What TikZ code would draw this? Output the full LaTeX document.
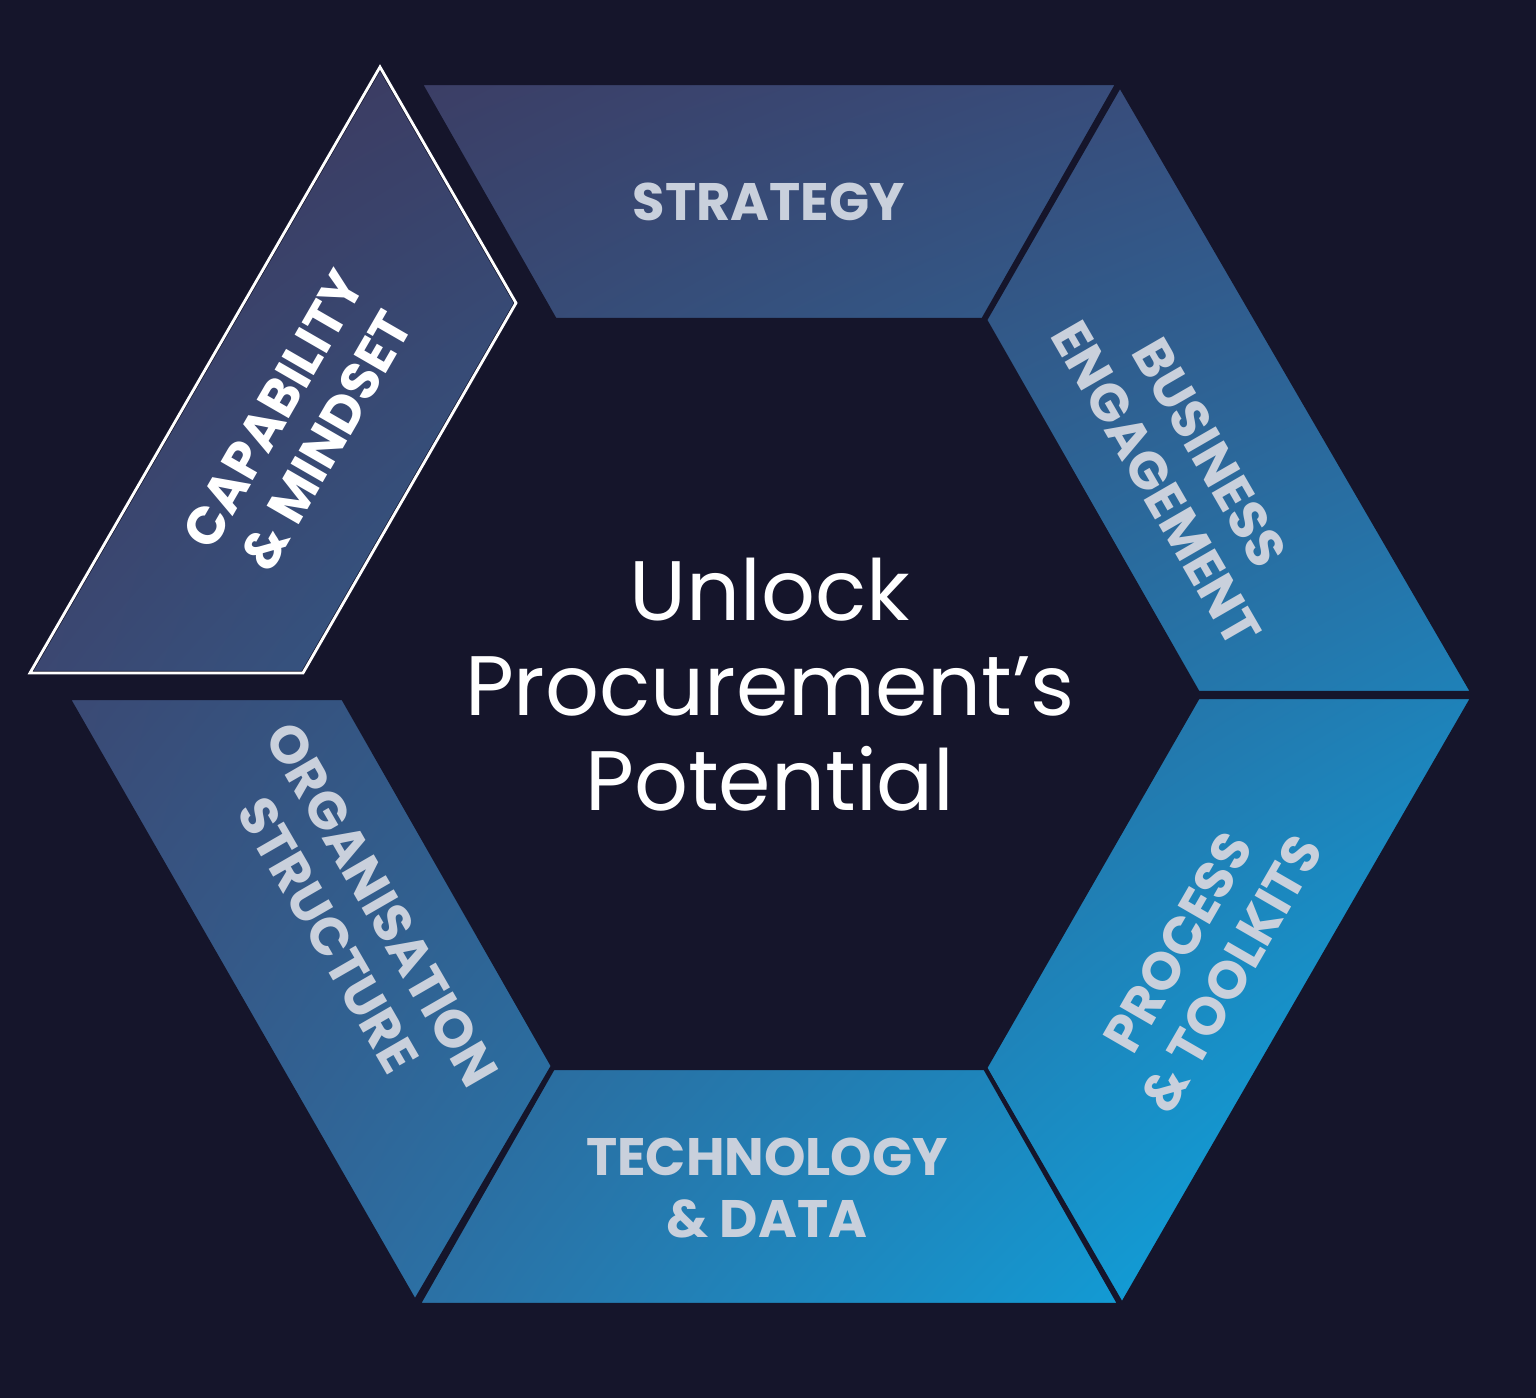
\documentclass[tikz,border=0pt]{standalone}
\usepackage{fontspec}
\setmainfont{Poppins}
\usetikzlibrary{shadings}
\definecolor{bg}{HTML}{15152B}
\definecolor{lbl}{HTML}{C9D0DC}
\definecolor{cUL}{HTML}{3D3355}
\definecolor{cUR}{HTML}{3A4E80}
\definecolor{cLL}{HTML}{3A5A8C}
\definecolor{cLR}{HTML}{00BBF8}
\tikzset{
  seglbl/.style={font=\fontsize{15}{17.5}\selectfont\bfseries, text=lbl, align=center, inner sep=0pt},
  seg/.style={draw=bg, line width=1.2pt},
}
\newcommand{\gradseg}[1]{%
  \begin{scope}
    \clip #1;
    \shade[upper left=cUL, upper right=cUR, lower left=cLL, lower right=cLR] (0,1398) rectangle (1536,0);
  \end{scope}
  \draw[seg] #1;
}
\begin{document}
\begin{tikzpicture}[x=0.01cm,y=-0.01cm]
\fill[bg] (0,0) rectangle (1536,1398);
\useasboundingbox (0,0) rectangle (1536,1398);
% segments
\gradseg{(420,83) -- (1118,83) -- (983,320) -- (555,320) -- cycle}
\gradseg{(1120,85) -- (1473,693) -- (1198,693) -- (985,320) -- cycle}
\gradseg{(1473,697) -- (1122,1305) -- (985,1068) -- (1198,697) -- cycle}
\gradseg{(985,1068) -- (1120,1305) -- (418,1305) -- (553,1068) -- cycle}
\gradseg{(68,698) -- (343,698) -- (553,1066) -- (415,1302) -- cycle}
\gradseg{(30,673) -- (303,673) -- (516,303) -- (380,67) -- cycle}
\draw[white, line width=0.8pt] (30,673) -- (303,673) -- (516,303) -- (380,67) -- cycle;
% labels
\node[seglbl] (strat) at (769,202) {STRATEGY};
\node[seglbl, rotate=-60] (bus) at (1183,468) {BUSINESS\\ENGAGEMENT};
\node[seglbl, rotate=60] (proc) at (1205,958) {PROCESS\\\& TOOLKITS};
\node[seglbl] (tech) at (767,1188) {TECHNOLOGY\\\& DATA};
\node[seglbl, rotate=-60] (org) at (355,920) {ORGANISATION\\STRUCTURE};
\node[seglbl, rotate=60, text=white] (cap) at (300,425) {CAPABILITY\\\& MINDSET};
\node[text=white, align=center, font=\fontsize{24}{27}\selectfont, inner sep=0pt] (ctr) at (770,685) {Unlock\\Procurement’s\\Potential};
\end{tikzpicture}
\end{document}
